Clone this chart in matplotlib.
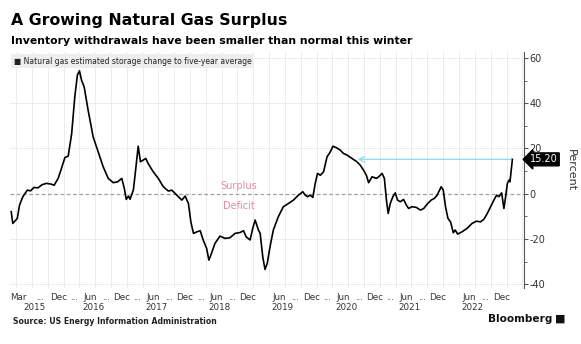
import matplotlib
matplotlib.use("Agg")
import matplotlib.pyplot as plt
import pandas as pd

# Natural gas storage vs five-year average (%)
dates = [
    "2015-03-05", "2015-03-14", "2015-04-09", "2015-04-22", "2015-05-11", "2015-06-06",
    "2015-06-25", "2015-07-14", "2015-08-06", "2015-08-30", "2015-09-24", "2015-10-19",
    "2015-11-08", "2015-12-01", "2015-12-20", "2016-01-09", "2016-01-28", "2016-02-17",
    "2016-03-06", "2016-03-21", "2016-04-02", "2016-04-14", "2016-04-29", "2016-05-22",
    "2016-06-20", "2016-07-19", "2016-08-17", "2016-09-15", "2016-10-14", "2016-11-09",
    "2016-12-02", "2016-12-17", "2016-12-28", "2017-01-10", "2017-01-19", "2017-02-07",
    "2017-02-18", "2017-03-07", "2017-03-20", "2017-04-05", "2017-04-20", "2017-05-03",
    "2017-06-02", "2017-07-01", "2017-07-30", "2017-08-28", "2017-09-17", "2017-10-16",
    "2017-11-14", "2017-12-03", "2017-12-22", "2018-01-05", "2018-01-20", "2018-02-09",
    "2018-02-28", "2018-03-17", "2018-04-06", "2018-04-19", "2018-05-04", "2018-05-24",
    "2018-06-22", "2018-07-21", "2018-08-19", "2018-09-17", "2018-10-16", "2018-11-05",
    "2018-11-20", "2018-12-13", "2018-12-28", "2019-01-11", "2019-01-30", "2019-02-09",
    "2019-02-24", "2019-03-09", "2019-03-22", "2019-04-07", "2019-04-26", "2019-05-25",
    "2019-06-23", "2019-07-22", "2019-08-20", "2019-09-18", "2019-10-13", "2019-10-27",
    "2019-11-10", "2019-11-25", "2019-12-10", "2019-12-24", "2020-01-06", "2020-01-22",
    "2020-02-10", "2020-03-01", "2020-03-20", "2020-04-04", "2020-04-23", "2020-05-16",
    "2020-06-04", "2020-06-24", "2020-07-23", "2020-08-21", "2020-09-09", "2020-09-28",
    "2020-10-14", "2020-10-27", "2020-11-16", "2020-12-11", "2020-12-24", "2021-01-13",
    "2021-01-26", "2021-02-07", "2021-02-17", "2021-03-01", "2021-03-16", "2021-03-30",
    "2021-04-12", "2021-04-28", "2021-05-17", "2021-06-02", "2021-06-15", "2021-07-04",
    "2021-07-29", "2021-08-22", "2021-09-10", "2021-10-03", "2021-10-23", "2021-11-11",
    "2021-11-27", "2021-12-06", "2021-12-20", "2022-01-01", "2022-01-14", "2022-01-28",
    "2022-02-12", "2022-02-28", "2022-03-11", "2022-03-25", "2022-04-19", "2022-05-18",
    "2022-06-16", "2022-07-11", "2022-08-04", "2022-08-23", "2022-09-12", "2022-10-01",
    "2022-10-20", "2022-11-05", "2022-11-18", "2022-12-04", "2022-12-17", "2022-12-27",
    "2023-01-06", "2023-01-15", "2023-01-21", "2023-02-04",
]
values = [
    -7.9, -13.1, -10.9, -5.0, -1.3, 1.6,
    1.3, 2.8, 2.6, 4.0, 4.6, 4.3,
    3.8, 6.8, 11.2, 16.0, 16.6, 26.6,
    42.8, 52.4, 54.3, 50.1, 47.2, 36.9,
    25.1, 18.5, 11.9, 6.8, 4.9, 5.3,
    6.8, 2.4, -2.5, -1.0, -2.4, 1.6,
    9.0, 21.0, 14.1, 14.9, 15.6, 13.4,
    9.7, 6.8, 3.1, 1.2, 1.6, -0.6,
    -2.8, -1.0, -4.3, -12.4, -17.5, -16.8,
    -16.3, -20.4, -24.1, -29.3, -26.3, -21.9,
    -18.7, -19.7, -19.4, -17.5, -17.1, -16.3,
    -19.0, -20.4, -15.3, -11.6, -16.0, -17.5,
    -27.8, -33.4, -30.7, -23.4, -16.0, -10.1,
    -5.7, -4.3, -2.8, -0.6, 0.9, -0.6,
    -1.3, -0.6, -1.6, 4.6, 9.0, 8.2,
    9.7, 16.3, 18.5, 21.0, 20.4, 19.3,
    17.8, 17.1, 15.6, 14.1, 12.6, 10.4,
    8.2, 4.9, 7.5, 6.8, 7.5, 9.0,
    6.8, -2.8, -8.7, -4.3, -1.3, 0.4,
    -2.8, -3.5, -2.5, -5.0, -6.5, -5.7,
    -6.0, -7.2, -6.5, -4.3, -2.8, -2.0,
    -0.6, 0.9, 3.1, 1.6, -5.7, -10.9,
    -12.4, -17.2, -16.0, -17.8, -16.8, -15.3,
    -13.1, -12.1, -12.4, -11.3, -8.7, -5.7,
    -2.8, -0.6, -1.3, 0.4, -6.5, -1.3,
    4.6, 6.0, 5.3, 15.2,
]

# x axis labels (month row) and year row
month_dates = ["2015-03-01", "2015-12-01", "2016-06-01", "2016-12-01", "2017-06-01",
               "2017-12-01", "2018-06-01", "2018-12-01", "2019-06-01", "2019-12-01",
               "2020-06-01", "2020-12-01", "2021-06-01", "2021-12-01", "2022-06-01",
               "2022-12-01"]
month_names = ["Mar", "Dec", "Jun", "Dec", "Jun", "Dec", "Jun", "Dec",
               "Jun", "Dec", "Jun", "Dec", "Jun", "Dec", "Jun", "Dec"]
# labels with no "..." after them
no_dots_after = ["2018-12-01", "2021-12-01", "2022-12-01"]
year_dates = ["2015-07-15", "2016-06-20", "2017-06-20", "2018-06-20",
              "2019-06-20", "2020-06-20", "2021-06-20", "2022-06-20"]
year_names = ["2015", "2016", "2017", "2018", "2019", "2020", "2021", "2022"]

arrow_from = "2023-01-28"
arrow_to = "2020-08-25"
last_value = 15.2

x = pd.to_datetime(dates)

fig = plt.figure(figsize=(5.81, 3.44), dpi=100)
ax = fig.add_axes([10 / 581, 1 - 288 / 344, 514 / 581, 236 / 344])

ax.plot(x, values, color="black", lw=1.2, zorder=3)

ax.set_xlim(pd.Timestamp("2015-02-26"), pd.Timestamp("2023-04-12"))
ax.set_ylim(-41.6, 62.6)

# grid: quarterly vertical lines, 20 pt horizontal lines
quarters = pd.date_range("2015-04-01", "2023-04-01", freq="QS")
for q in quarters:
    ax.axvline(q, color="#ececec", lw=0.7, zorder=0)
for yv in [-40, -20, 20, 40, 60]:
    ax.axhline(yv, color="#ececec", lw=0.7, zorder=0)
ax.axhline(0, color="#a0a0a0", lw=0.9, ls=(0, (3, 2)), zorder=1)

ax.yaxis.tick_right()
ax.set_yticks([-40, -20, 0, 20, 40, 60])
ax.set_yticklabels(["-40", "-20", "0", "20", "40", "60"])
ax.set_yticks([-30, -10, 10, 30, 50], minor=True)
ax.tick_params(axis="y", which="major", length=3, width=0.8, color="#555555",
               labelsize=7, labelcolor="#333333", pad=1)
ax.tick_params(axis="y", which="minor", length=2, width=0.6, color="#555555")
ax.set_xticks([])
for side in ["left", "top", "bottom"]:
    ax.spines[side].set_visible(False)
ax.spines["right"].set_color("#555555")
ax.spines["right"].set_linewidth(0.8)

ax.yaxis.set_label_position("right")
ax.set_ylabel("Percent", rotation=270, fontsize=8, color="#333333", labelpad=22)

# month and year labels under the axis
md = pd.to_datetime(month_dates)
for i, (d, name) in enumerate(zip(md, month_names)):
    ha = "left" if i == 0 else "center"
    ax.annotate(name, xy=(d, 0), xycoords=("data", "axes fraction"),
                xytext=(0, -9), textcoords="offset pixels", ha=ha, va="center",
                fontsize=6.3, color="#333333")
    if i < len(md) - 1 and month_dates[i] not in no_dots_after:
        mid = md[i] + (md[i + 1] - md[i]) / 2
        ax.annotate("...", xy=(mid, 0), xycoords=("data", "axes fraction"),
                    xytext=(6 if i == 0 else 0, -9), textcoords="offset pixels",
                    ha="center", va="center", fontsize=6.3, color="#333333")
for d, name in zip(pd.to_datetime(year_dates), year_names):
    ax.annotate(name, xy=(d, 0), xycoords=("data", "axes fraction"),
                xytext=(0, -20), textcoords="offset pixels", ha="center", va="center",
                fontsize=6.3, color="#333333")

# surplus / deficit labels
ax.text(pd.Timestamp("2018-10-10"), 3.5, "Surplus", color="#e8899f", fontsize=7,
        ha="center", va="center")
ax.text(pd.Timestamp("2018-10-10"), -5.5, "Deficit", color="#e8899f", fontsize=7,
        ha="center", va="center")

# cyan arrow back to last time at the same level
ax.annotate("", xy=(pd.Timestamp(arrow_to), last_value),
            xytext=(pd.Timestamp(arrow_from), last_value),
            arrowprops=dict(arrowstyle="->", color="#8fdcec", lw=0.9,
                            shrinkA=0, shrinkB=0), zorder=2)

# last value tag
ax.annotate(f"{last_value:.2f}", xy=(1, last_value), xycoords=("axes fraction", "data"),
            xytext=(6, 0), textcoords="offset pixels", ha="left", va="center",
            fontsize=7, color="white",
            bbox=dict(boxstyle="larrow,pad=0.15", fc="black", ec="black"))

# legend box
fig.text(14 / 581, 1 - 61 / 344,
         "\u25A0 Natural gas estimated storage change to five-year average",
         fontsize=5.5, color="#222222", ha="left", va="center",
         bbox=dict(boxstyle="square,pad=0.35", fc="#eeeeee", ec="none"))

# titles
fig.text(11 / 581, 1 - 21 / 344, "A Growing Natural Gas Surplus", fontsize=11.3,
         fontweight="bold", ha="left", va="center")
fig.text(11 / 581, 1 - 41 / 344,
         "Inventory withdrawals have been smaller than normal this winter",
         fontsize=7.8, fontweight="bold", ha="left", va="center")

fig.text(13 / 581, 1 - 321 / 344, "Source: US Energy Information Administration",
         fontsize=5.6, fontweight="bold", color="#222222", ha="left", va="center")
fig.text(552 / 581, 1 - 319 / 344, "Bloomberg", fontsize=7.6, fontweight="bold",
         color="#111111", ha="right", va="center")
fig.text(555 / 581, 1 - 319 / 344, "\u25A0", fontsize=8, color="#111111",
         ha="left", va="center")

fig.savefig("out.png", dpi=100)
